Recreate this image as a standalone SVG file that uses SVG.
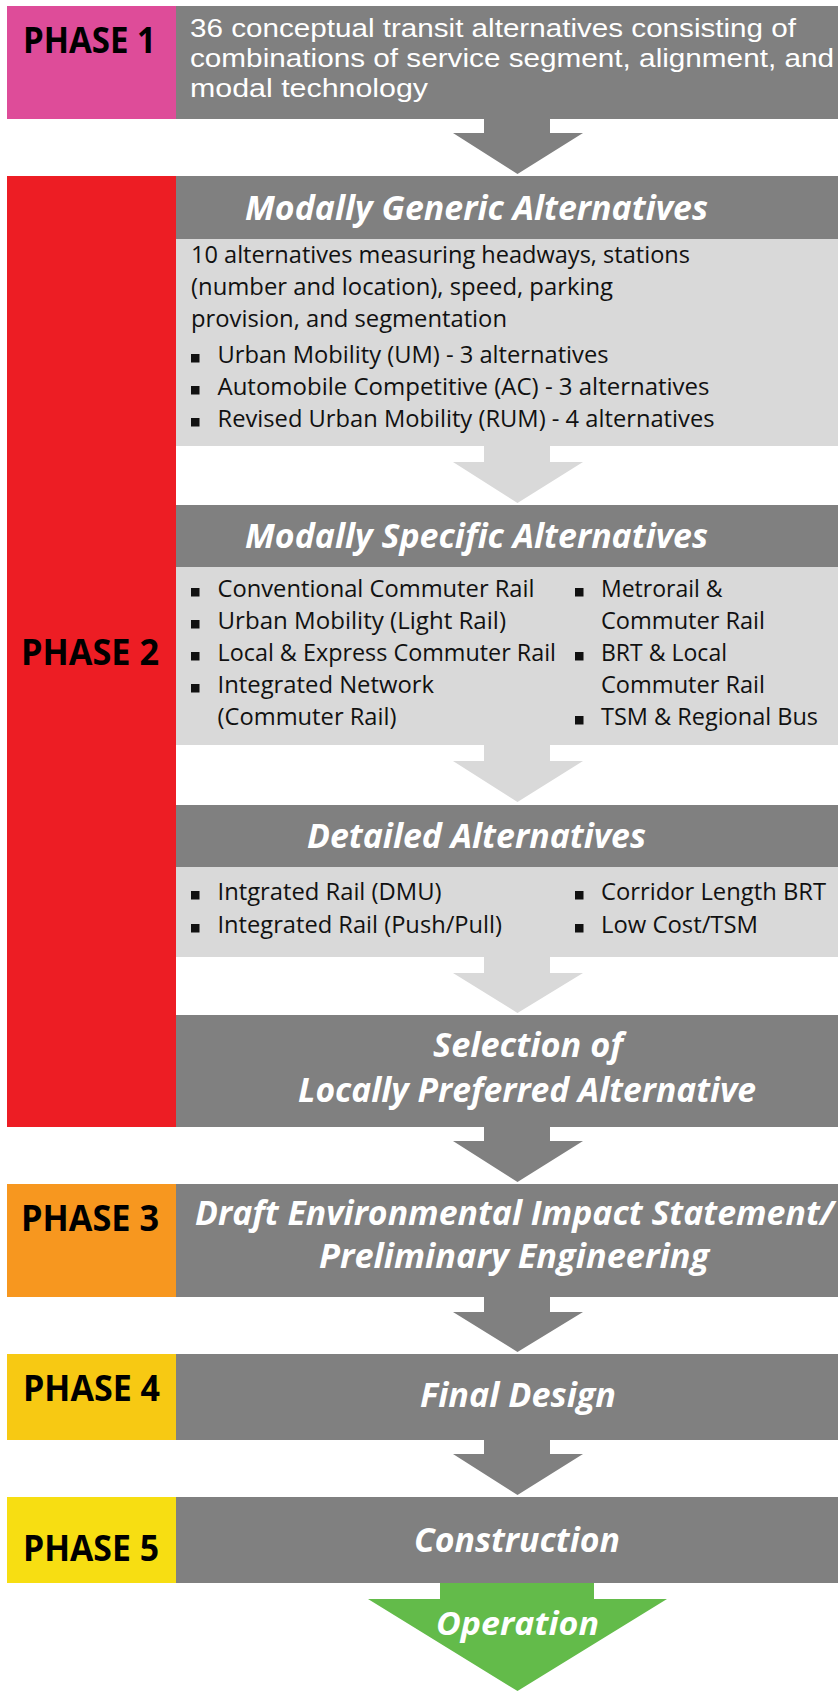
<svg xmlns="http://www.w3.org/2000/svg" width="838" height="1691" viewBox="0 0 838 1691">
<style>
.dark{fill:#808080}
.light{fill:#d9d9d9}
.lbl{font-family:"Open Sans","Liberation Sans",sans-serif;font-weight:700;font-size:36px;fill:#000}
.ttl{font-family:"Open Sans","Liberation Sans",sans-serif;font-weight:700;font-style:italic;font-size:34px;fill:#fff}
.body{font-family:"Open Sans","Liberation Sans",sans-serif;font-size:24px;fill:#111}
.wbody{font-family:"Liberation Sans","Open Sans",sans-serif;font-size:25px;fill:#fff}
.bul{fill:#111}
</style>
<rect width="838" height="1691" fill="#fff"/>

<g id="connectors">
<polygon class="dark" points="484,119 550,119 550,133 583,133 517.5,174 453,133 484,133"/>
<polygon class="light" points="484,446 550,446 550,462 583,462 517.5,503 453,462 484,462"/>
<polygon class="light" points="484,745 550,745 550,761 583,761 517.5,802 453,761 484,761"/>
<polygon class="light" points="484,957 550,957 550,973 583,973 517.5,1013 453,973 484,973"/>
<polygon class="dark" points="484,1127 550,1127 550,1141 583,1141 517.5,1182 453,1141 484,1141"/>
<polygon class="dark" points="484,1297 550,1297 550,1312 583,1312 517.5,1352 453,1312 484,1312"/>
<polygon class="dark" points="484,1440 550,1440 550,1454 583,1454 517.5,1495 453,1454 484,1454"/>
</g>

<g id="phase1">
<rect x="7" y="6" width="169" height="113" fill="#de4c99"/>
<rect class="dark" x="176" y="6" width="662" height="113"/>
<text class="lbl" x="23" y="53" textLength="133" lengthAdjust="spacingAndGlyphs">PHASE 1</text>
<text class="wbody" x="190" y="37" textLength="606" lengthAdjust="spacingAndGlyphs">36 conceptual transit alternatives consisting of</text>
<text class="wbody" x="190" y="67" textLength="644" lengthAdjust="spacingAndGlyphs">combinations of service segment, alignment, and</text>
<text class="wbody" x="190" y="97" textLength="238" lengthAdjust="spacingAndGlyphs">modal technology</text>
</g>

<g id="phase2">
<rect x="7" y="176" width="169" height="951" fill="#ed1d24"/>
<text class="lbl" x="21" y="665" textLength="138" lengthAdjust="spacingAndGlyphs">PHASE 2</text>
</g>

<g id="generic">
<rect class="dark" x="176" y="176" width="662" height="63"/>
<rect class="light" x="176" y="239" width="662" height="207"/>
<text class="ttl" x="245" y="220" textLength="463" lengthAdjust="spacingAndGlyphs">Modally Generic Alternatives</text>
<text class="body" x="191" y="263" textLength="499" lengthAdjust="spacingAndGlyphs">10 alternatives measuring headways, stations</text>
<text class="body" x="191" y="295" textLength="422" lengthAdjust="spacingAndGlyphs">(number and location), speed, parking</text>
<text class="body" x="191" y="327" textLength="316" lengthAdjust="spacingAndGlyphs">provision, and segmentation</text>
<rect class="bul" x="191" y="354" width="8.5" height="8.5"/>
<rect class="bul" x="191" y="386" width="8.5" height="8.5"/>
<rect class="bul" x="191" y="418" width="8.5" height="8.5"/>
<text class="body" x="217.5" y="363" textLength="391" lengthAdjust="spacingAndGlyphs">Urban Mobility (UM) - 3 alternatives</text>
<text class="body" x="217.5" y="395" textLength="492" lengthAdjust="spacingAndGlyphs">Automobile Competitive (AC) - 3 alternatives</text>
<text class="body" x="217.5" y="427" textLength="497" lengthAdjust="spacingAndGlyphs">Revised Urban Mobility (RUM) - 4 alternatives</text>
</g>

<g id="specific">
<rect class="dark" x="176" y="505" width="662" height="62"/>
<rect class="light" x="176" y="567" width="662" height="178"/>
<text class="ttl" x="245" y="548" textLength="463" lengthAdjust="spacingAndGlyphs">Modally Specific Alternatives</text>
<rect class="bul" x="191" y="588" width="8.5" height="8.5"/>
<rect class="bul" x="191" y="620" width="8.5" height="8.5"/>
<rect class="bul" x="191" y="652" width="8.5" height="8.5"/>
<rect class="bul" x="191" y="684" width="8.5" height="8.5"/>
<text class="body" x="217.5" y="597" textLength="317" lengthAdjust="spacingAndGlyphs">Conventional Commuter Rail</text>
<text class="body" x="217.5" y="629" textLength="288.5" lengthAdjust="spacingAndGlyphs">Urban Mobility (Light Rail)</text>
<text class="body" x="217.5" y="661" textLength="338.5" lengthAdjust="spacingAndGlyphs">Local &amp; Express Commuter Rail</text>
<text class="body" x="217.5" y="693" textLength="216.5" lengthAdjust="spacingAndGlyphs">Integrated Network</text>
<text class="body" x="217.5" y="725" textLength="179" lengthAdjust="spacingAndGlyphs">(Commuter Rail)</text>
<rect class="bul" x="575" y="588" width="8.5" height="8.5"/>
<rect class="bul" x="575" y="652" width="8.5" height="8.5"/>
<rect class="bul" x="575" y="716" width="8.5" height="8.5"/>
<text class="body" x="601" y="597" textLength="121.6" lengthAdjust="spacingAndGlyphs">Metrorail &amp;</text>
<text class="body" x="601" y="629" textLength="164" lengthAdjust="spacingAndGlyphs">Commuter Rail</text>
<text class="body" x="601" y="661" textLength="126" lengthAdjust="spacingAndGlyphs">BRT &amp; Local</text>
<text class="body" x="601" y="693" textLength="164" lengthAdjust="spacingAndGlyphs">Commuter Rail</text>
<text class="body" x="601" y="725" textLength="217" lengthAdjust="spacingAndGlyphs">TSM &amp; Regional Bus</text>
</g>

<g id="detailed">
<rect class="dark" x="176" y="805" width="662" height="62"/>
<rect class="light" x="176" y="867" width="662" height="90"/>
<text class="ttl" x="307" y="848" textLength="339" lengthAdjust="spacingAndGlyphs">Detailed Alternatives</text>
<rect class="bul" x="191" y="891" width="8.5" height="8.5"/>
<rect class="bul" x="191" y="924" width="8.5" height="8.5"/>
<text class="body" x="217.5" y="900" textLength="224" lengthAdjust="spacingAndGlyphs">Intgrated Rail (DMU)</text>
<text class="body" x="217.5" y="933" textLength="284.5" lengthAdjust="spacingAndGlyphs">Integrated Rail (Push/Pull)</text>
<rect class="bul" x="575" y="891" width="8.5" height="8.5"/>
<rect class="bul" x="575" y="924" width="8.5" height="8.5"/>
<text class="body" x="601" y="900" textLength="225" lengthAdjust="spacingAndGlyphs">Corridor Length BRT</text>
<text class="body" x="601" y="933" textLength="157" lengthAdjust="spacingAndGlyphs">Low Cost/TSM</text>
</g>

<g id="selection">
<rect class="dark" x="176" y="1015" width="662" height="112"/>
<text class="ttl" x="433" y="1057" textLength="190" lengthAdjust="spacingAndGlyphs">Selection of</text>
<text class="ttl" x="298" y="1102" textLength="458" lengthAdjust="spacingAndGlyphs">Locally Preferred Alternative</text>
</g>

<g id="phase3">
<rect x="7" y="1184" width="169" height="113" fill="#f7971f"/>
<rect class="dark" x="176" y="1184" width="662" height="113"/>
<text class="lbl" x="21" y="1231" textLength="138" lengthAdjust="spacingAndGlyphs">PHASE 3</text>
<text class="ttl" x="195" y="1225" textLength="639" lengthAdjust="spacingAndGlyphs">Draft Environmental Impact Statement/</text>
<text class="ttl" x="319" y="1268" textLength="390" lengthAdjust="spacingAndGlyphs">Preliminary Engineering</text>
</g>

<g id="phase4">
<rect x="7" y="1354" width="169" height="86" fill="#f7c913"/>
<rect class="dark" x="176" y="1354" width="662" height="86"/>
<text class="lbl" x="23" y="1401" textLength="137" lengthAdjust="spacingAndGlyphs">PHASE 4</text>
<text class="ttl" x="420" y="1407" textLength="196" lengthAdjust="spacingAndGlyphs">Final Design</text>
</g>

<g id="phase5">
<rect x="7" y="1497" width="169" height="86" fill="#f7de12"/>
<rect class="dark" x="176" y="1497" width="662" height="86"/>
<text class="lbl" x="23" y="1561" textLength="136" lengthAdjust="spacingAndGlyphs">PHASE 5</text>
<text class="ttl" x="414" y="1552" textLength="206" lengthAdjust="spacingAndGlyphs">Construction</text>
</g>

<g id="operation">
<polygon fill="#63bb4a" points="440,1583 594,1583 594,1599 667,1599 517.5,1691 368,1599 440,1599"/>
<text class="ttl" style="font-size:32px" x="436" y="1635" textLength="163" lengthAdjust="spacingAndGlyphs">Operation</text>
</g>
</svg>
